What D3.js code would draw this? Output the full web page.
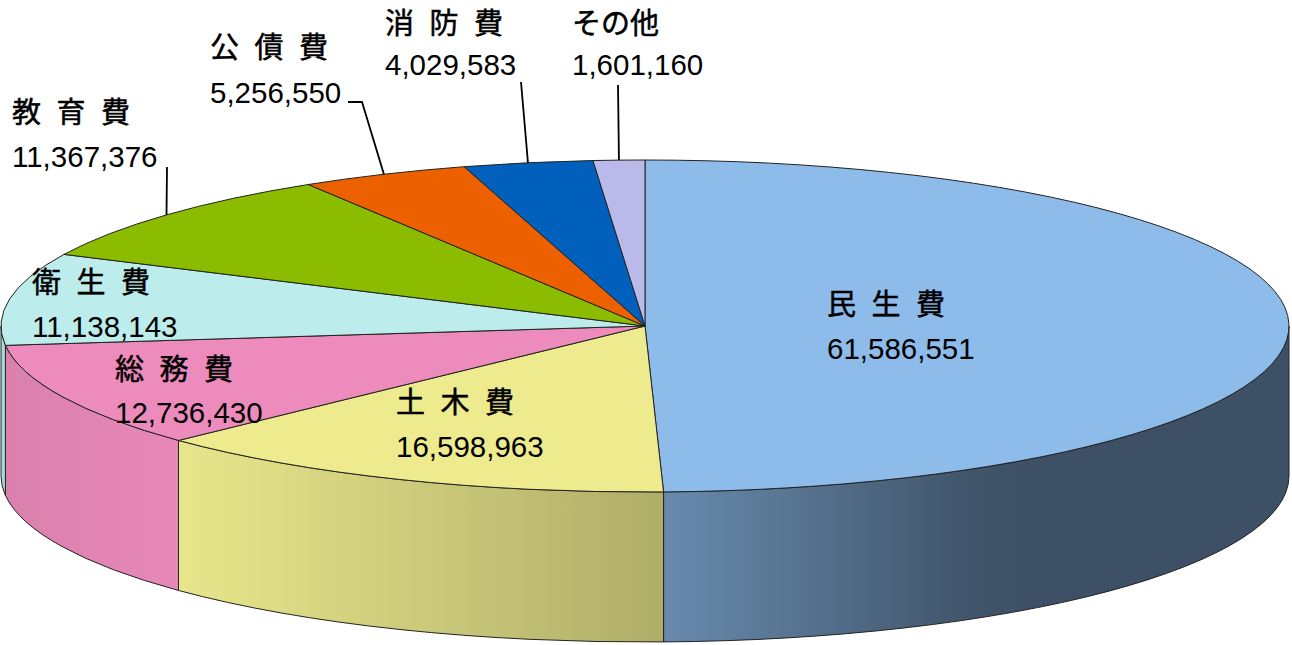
<!DOCTYPE html>
<html>
<head>
<meta charset="utf-8">
<script src="https://cdn.jsdelivr.net/npm/d3@7"></script>
<style>
  html, body { margin: 0; padding: 0; background: #fff; }
  svg { display: block; }
</style>
</head>
<body>
<svg id="chart" width="1292" height="645"></svg>
<script>
// slices, clockwise from 12 o'clock
var categories = ["民 生 費", "土 木 費", "総 務 費", "衛 生 費", "教 育 費", "公 債 費", "消 防 費", "その他"];
var values = [61586551, 16598963, 12736430, 11138143, 11367376, 5256550, 4029583, 1601160];

var palette = ["#8dbbea", "#edeb8e", "#ec8bbc", "#bcecec", "#8cbc00", "#ec6000", "#0060bc", "#babaea"];

// ellipse of the pie top and the height of the side wall
var cx = 645, cy = 326, rx = 644, ry = 166, depth = 150;

// where each label sits (name baseline), number goes under it
var labelPos = [[827, 315], [396, 413], [115, 380], [32, 293], [12, 123], [210, 58], [385, 34], [572, 34]];
var numGap = [44, 44, 43, 44, 44, 45, 41, 41];
// leader lines: points near the label, the pie end is computed from the slice
var leaders = { 4: [[167, 167]], 5: [[348, 102], [362, 102]], 6: [[521, 82]], 7: [[618, 85]] };

var svg = d3.select("#chart");
var defs = svg.append("defs");

var pie = d3.pie().sort(null).value(function(d) { return d; });
var arcs = pie(values);

function P(t, dy) {
  return [cx + rx * Math.sin(t), cy - ry * Math.cos(t) + (dy || 0)];
}

function topPath(d) {
  var p0 = P(d.startAngle), p1 = P(d.endAngle);
  var large = d.endAngle - d.startAngle > Math.PI ? 1 : 0;
  return "M" + cx + "," + cy + "L" + p0 + "A" + rx + "," + ry + " 0 " + large + " 1 " + p1 + "Z";
}

function sideRange(d) {
  var s = Math.max(d.startAngle, Math.PI / 2), e = Math.min(d.endAngle, 3 * Math.PI / 2);
  return e > s ? [s, e] : null;
}

function sidePath(r) {
  var a = P(r[0]), b = P(r[1]), b2 = P(r[1], depth), a2 = P(r[0], depth);
  return "M" + a + "A" + rx + "," + ry + " 0 0 1 " + b + "L" + b2 +
         "A" + rx + "," + ry + " 0 0 0 " + a2 + "Z";
}

// light falls from the front-left, the wall darkens to the right
var shade = d3.scaleLinear()
  .domain([0, 180, 663, 1000, 1292])
  .range([0.92, 0.98, 0.74, 0.43, 0.43])
  .clamp(true);

function darker(col, m) {
  var c = d3.rgb(col);
  return d3.rgb(c.r * m, c.g * m, c.b * m).toString();
}

// side walls
arcs.forEach(function(d, i) {
  var r = sideRange(d);
  if (!r) return;
  var x0 = P(r[1])[0], x1 = P(r[0])[0];
  var g = defs.append("linearGradient")
    .attr("id", "side" + i)
    .attr("gradientUnits", "userSpaceOnUse")
    .attr("x1", x0).attr("x2", x1)
    .attr("y1", 0).attr("y2", 0);
  d3.range(11).forEach(function(k) {
    var x = x0 + (x1 - x0) * k / 10;
    g.append("stop")
      .attr("offset", k / 10)
      .attr("stop-color", darker(palette[i], shade(x)));
  });
  svg.append("path")
    .attr("d", sidePath(r))
    .attr("fill", "url(#side" + i + ")")
    .attr("stroke", "#222")
    .attr("stroke-width", 1)
    .attr("stroke-linejoin", "round");
});

// top faces
svg.selectAll("path.top")
  .data(arcs)
  .enter().append("path")
  .attr("class", "top")
  .attr("d", topPath)
  .attr("fill", function(d, i) { return palette[i]; })
  .attr("stroke", "#222")
  .attr("stroke-width", 1)
  .attr("stroke-linejoin", "round");

// leader lines
Object.keys(leaders).forEach(function(k) {
  var d = arcs[+k];
  var mid = (d.startAngle + d.endAngle) / 2;
  var pts = leaders[k].concat([P(mid)]);
  svg.append("path")
    .attr("d", d3.line()(pts))
    .attr("fill", "none")
    .attr("stroke", "#000")
    .attr("stroke-width", 1.8);
});

// labels
var fmt = d3.format(",");
var labels = svg.selectAll("g.label")
  .data(arcs)
  .enter().append("g")
  .attr("class", "label")
  .attr("transform", function(d, i) { return "translate(" + labelPos[i] + ")"; });

labels.append("text")
  .attr("font-family", "'Noto Sans CJK JP', sans-serif")
  .attr("font-size", 29)
  .attr("word-spacing", 9)
  .attr("fill", "#000")
  .attr("stroke", "#000")
  .attr("stroke-width", 0.5)
  .text(function(d, i) { return categories[i]; });

labels.append("text")
  .attr("y", function(d, i) { return numGap[i]; })
  .attr("font-family", "'Liberation Sans', Arial, sans-serif")
  .attr("font-size", 29.5)
  .attr("fill", "#000")
  .text(function(d) { return fmt(d.value); });
</script>
</body>
</html>
